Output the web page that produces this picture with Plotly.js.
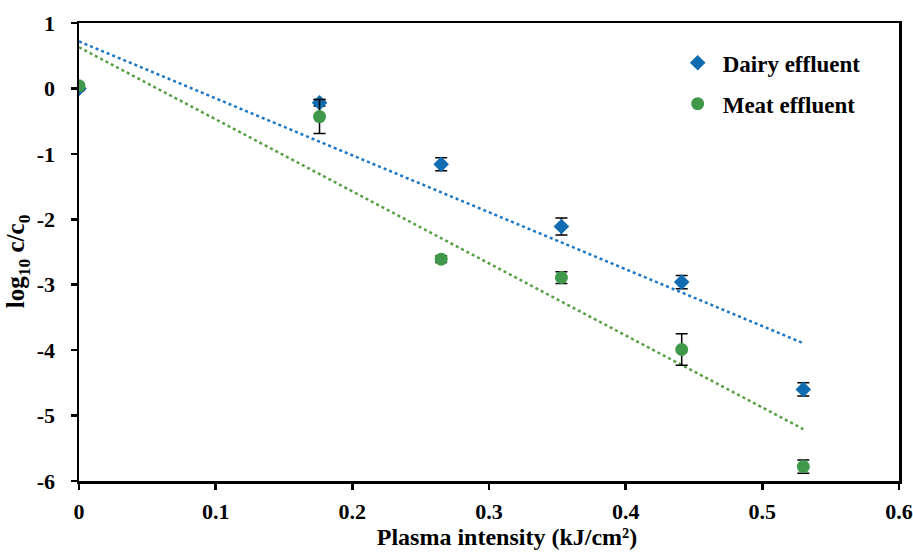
<!DOCTYPE html>
<html>
<head>
<meta charset="utf-8">
<script src="https://cdn.plot.ly/plotly-3.0.1.min.js"></script>
<style>html,body{margin:0;padding:0;background:#fff;}</style>
</head>
<body>
<div id="chart" style="width:913px;height:552px;"></div>
<script>
// Plasma intensity (kJ/cm2)
const dairyX = [0, 0.176, 0.265, 0.353, 0.441, 0.530];
const dairyY = [0.0, -0.22, -1.16, -2.11, -2.96, -4.60];
const dairyErr = [0.03, 0.05, 0.10, 0.13, 0.10, 0.10];

const meatX = [0, 0.176, 0.265, 0.353, 0.441, 0.530];
const meatY = [0.04, -0.43, -2.61, -2.89, -3.99, -5.78];
const meatErr = [0.03, 0.26, 0.05, 0.09, 0.24, 0.10];

const xTicks = [0, 0.1, 0.2, 0.3, 0.4, 0.5, 0.6];
const xTickText = ['0', '0.1', '0.2', '0.3', '0.4', '0.5', '0.6'];
const yTicks = [1, 0, -1, -2, -3, -4, -5, -6];
const yTickText = ['1', '0', '-1', '-2', '-3', '-4', '-5', '-6'];

// least-squares linear trendline (as Excel draws it)
function fit(xs, ys) {
  const n = xs.length;
  const mx = xs.reduce((a, b) => a + b, 0) / n;
  const my = ys.reduce((a, b) => a + b, 0) / n;
  let sxy = 0, sxx = 0;
  for (let i = 0; i < n; i++) { sxy += (xs[i] - mx) * (ys[i] - my); sxx += (xs[i] - mx) ** 2; }
  const m = sxy / sxx, b = my - m * mx;
  const x0 = Math.min(...xs), x1 = Math.max(...xs);
  return { x: [x0, x1], y: [m * x0 + b, m * x1 + b] };
}
const dFit = fit(dairyX, dairyY);
const mFit = fit(meatX, meatY);

const blue = '#0F6CB0';
const green = '#40994A';
const font = 'Liberation Serif, Times New Roman, serif';
const sp = n => '&nbsp;'.repeat(n);

const traces = [
  { x: dFit.x, y: dFit.y, mode: 'lines', showlegend: false, hoverinfo: 'skip',
    line: { color: '#1B76C4', width: 2.5, dash: 'dot' } },
  { x: mFit.x, y: mFit.y, mode: 'lines', showlegend: false, hoverinfo: 'skip',
    line: { color: '#56A043', width: 2.5, dash: 'dot' } },
  { x: dairyX, y: dairyY, mode: 'markers', name: '<b>Dairy effluent</b>', legendgroup: 'd',
    marker: { symbol: 'diamond', size: 12, color: blue },
    error_y: { type: 'data', array: dairyErr, visible: true, color: '#000', thickness: 1.5, width: 6 } },
  { x: meatX, y: meatY, mode: 'markers', name: '<b>Meat effluent</b>', legendgroup: 'm',
    marker: { symbol: 'circle', size: 13, color: green },
    error_y: { type: 'data', array: meatErr, visible: true, color: '#000', thickness: 1.5, width: 6 } }
];

const layout = {
  width: 913, height: 552,
  margin: { l: 79, r: 14, t: 23, b: 71 },
  paper_bgcolor: '#fff', plot_bgcolor: '#fff',
  font: { family: font, color: '#000', size: 22 },
  showlegend: true,
  legend: { x: 0.724, y: 0.96, xanchor: 'left', yanchor: 'top', tracegroupgap: 8, itemwidth: 40,
    font: { family: font, size: 23, color: '#000' }, bgcolor: 'rgba(0,0,0,0)' },
  xaxis: {
    range: [0, 0.6], tickvals: xTicks, ticktext: xTickText.map(t => '<b>' + t + '</b>'),
    showgrid: false, zeroline: false, showline: true, linecolor: '#000', linewidth: 2.5,
    mirror: true, ticks: 'outside', ticklen: 6, tickwidth: 2.5, tickcolor: '#000',
    ticklabelstandoff: 3, ticklabeloverflow: 'allow',
    tickfont: { family: font, size: 22 },
    title: { text: sp(6) + '<b>Plasma intensity (kJ/cm²)</b>', font: { family: font, size: 24 }, standoff: 6 }
  },
  yaxis: {
    range: [-6, 1], tickvals: yTicks, ticktext: yTickText.map(t => '<b>' + t + '</b>'),
    showgrid: false, zeroline: false, showline: true, linecolor: '#000', linewidth: 2.5,
    mirror: true, ticks: 'outside', ticklen: 6, tickwidth: 2.5, tickcolor: '#000',
    ticklabelstandoff: 11, ticklabeloverflow: 'allow',
    tickfont: { family: font, size: 22 },
    title: { text: '<b>log<sub>10</sub> c/c<sub>0</sub></b>' + sp(3), font: { family: font, size: 25 }, standoff: 5 }
  }
};

Plotly.newPlot('chart', traces, layout, { displayModeBar: false, staticPlot: true });
</script>
</body>
</html>
